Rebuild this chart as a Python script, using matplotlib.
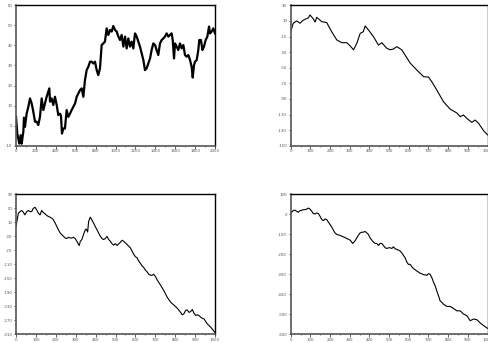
import numpy as np
import matplotlib.pyplot as plt
from matplotlib.ticker import MultipleLocator

# ---- data ----
# top-left: long random walk, 0..2000
tl_x = [0, 13, 33, 47, 57, 74, 80, 90, 107, 124, 141, 158, 174, 191, 208, 224, 241,
        258, 275, 291, 308, 325, 335, 342, 358, 375, 392, 409, 425, 442, 452, 462,
        476, 492, 500, 509, 526, 543, 559, 576, 593, 610, 626, 643, 660, 677, 693,
        710, 727, 744, 760, 777, 794, 811, 827, 844, 861, 878, 894, 911, 928, 945,
        962, 978, 995, 1012, 1029, 1045, 1062, 1079, 1096, 1112, 1129, 1146, 1162,
        1179, 1196, 1213, 1229, 1246, 1263, 1280, 1296, 1313, 1330, 1347, 1363,
        1380, 1397, 1414, 1430, 1447, 1464, 1481, 1497, 1514, 1531, 1548, 1564,
        1575, 1588, 1598, 1615, 1631, 1648, 1665, 1682, 1698, 1715, 1732, 1749,
        1765, 1776, 1789, 1799, 1816, 1832, 1842, 1859, 1873, 1889, 1906, 1923,
        1940, 1950, 1966, 1983, 2000]
tl_y = [4.4, -3.9, -8.9, -4.7, -9.0, -3.0, 4.0, -0.6, 6.0, 9.4, 13.6, 11.0, 7.0,
        2.0, 2.0, 0.3, 4.4, 13.6, 7.8, 11.0, 14.4, 17.0, 18.6, 12.0, 13.6, 10.3,
        14.4, 10.3, 5.3, 6.0, 5.0, -3.9, -1.4, -1.4, 2.8, 7.8, 4.4, 6.0, 7.8, 9.4,
        11.0, 14.4, 16.0, 17.7, 18.6, 14.4, 22.7, 27.7, 29.4, 31.9, 31.9, 31.0,
        31.9, 27.7, 25.2, 28.6, 40.2, 41.0, 41.9, 48.5, 45.2, 47.7, 46.9, 49.7,
        47.7, 46.9, 44.4, 42.7, 45.2, 39.4, 44.4, 38.5, 43.5, 39.4, 41.9, 38.5,
        46.0, 44.4, 41.9, 39.4, 36.0, 32.7, 27.7, 28.6, 31.0, 33.5, 37.7, 41.0,
        40.2, 37.7, 35.2, 41.0, 42.7, 43.5, 44.4, 46.0, 44.4, 45.2, 46.0, 42.7,
        33.5, 41.0, 39.4, 37.7, 41.0, 38.5, 40.2, 35.2, 34.4, 35.2, 32.7, 29.4,
        24.0, 30.2, 31.9, 32.7, 37.7, 42.7, 42.7, 37.7, 39.4, 42.7, 44.4, 49.4,
        46.0, 46.9, 48.5, 46.0]

# top-right: 0..1000
tr_x = [0, 13, 30, 47, 64, 90, 98, 115, 124, 132, 158, 183, 208, 234, 259, 285,
        302, 319, 336, 353, 369, 378, 395, 420, 446, 463, 488, 505, 522, 539, 564,
        581, 607, 624, 641, 675, 700, 717, 742, 776, 810, 844, 861, 878, 895, 920,
        937, 954, 980, 1000]
tr_y = [-3.8, 7.0, 10.0, 7.0, 11.0, 14.0, 17.6, 12.5, 8.6, 14.6, 9.0, 7.8, -3.8,
        -14.4, -17.9, -17.9, -22.0, -27.0, -18.7, -6.0, -3.8, 3.5, -1.6, -10.0,
        -21.0, -18.0, -25.0, -27.0, -26.0, -23.0, -27.0, -33.7, -44.0, -48.6,
        -53.0, -61.5, -62.0, -68.0, -78.5, -93.5, -103.0, -108.0, -112.7, -110.6,
        -115.0, -120.0, -117.0, -121.0, -130.7, -136.0]

# bottom-left: 0..1000
bl_x = [0, 3, 12, 20, 29, 37, 45, 54, 62, 71, 79, 87, 96, 104, 113, 121, 129,
        138, 146, 155, 163, 171, 180, 188, 197, 205, 213, 222, 230, 239, 247,
        255, 264, 272, 281, 289, 297, 306, 314, 318, 323, 331, 339, 348, 353,
        360, 365, 373, 381, 390, 398, 407, 415, 424, 432, 440, 449, 457, 466,
        474, 482, 491, 499, 508, 516, 524, 533, 541, 550, 558, 566, 575, 583,
        592, 600, 608, 617, 625, 634, 642, 650, 659, 667, 676, 684, 692, 701,
        709, 718, 726, 743, 760, 777, 793, 810, 827, 835, 844, 852, 860, 869,
        877, 886, 894, 903, 911, 919, 928, 936, 945, 961, 978, 1000]
bl_y = [-2.5, 7, 35, 40, 43, 38, 30.6, 40, 43, 40, 40, 49.4, 52, 44.7, 35, 30.6,
        43, 37, 33.4, 28.7, 26, 24, 21, 16.4, 7, -2.5, -12, -21, -26, -30.8,
        -35.5, -37, -33.6, -35.5, -35.5, -33.6, -37, -45, -54, -57, -45, -40,
        -26, -12, -10, -18.5, 11.7, 24, 16.4, 7, -2.5, -12, -21, -30.8, -37, -40,
        -37, -30.8, -40, -45, -51.5, -56, -51.5, -57, -52.5, -48, -42, -45,
        -49.6, -54, -59, -63.8, -73, -82.6, -89, -92, -101.5, -108, -115.7, -120,
        -127, -132.6, -139, -142, -142, -139, -146, -155, -163, -170, -186, -205,
        -219, -227, -236, -248, -255, -252, -243, -241, -248, -246, -240, -250,
        -257, -255, -257, -262, -265, -267, -281, -290, -306]

# bottom-right: 0..1000
br_x = [0, 5, 14, 22, 30, 39, 47, 56, 64, 73, 81, 90, 98, 107, 115, 124, 132,
        141, 149, 158, 166, 175, 183, 192, 200, 208, 217, 225, 234, 251, 268,
        285, 302, 315, 326, 336, 344, 353, 361, 369, 378, 386, 395, 403, 412,
        420, 429, 437, 446, 454, 463, 471, 480, 488, 497, 505, 514, 522, 531,
        539, 547, 556, 564, 573, 581, 590, 598, 607, 615, 624, 641, 658, 675,
        692, 700, 708, 717, 725, 734, 742, 751, 759, 768, 776, 793, 810, 827,
        844, 861, 878, 895, 912, 929, 946, 963, 980, 1000]
br_y = [0.5, 9, 19, 19, 14, 9, 17, 19, 22, 22, 25, 30, 25, 14, 2, 0.5, 5.5, 2,
        -11, -28, -33, -24, -28, -41, -52.6, -64, -81, -94, -102, -107, -114,
        -122, -130.5, -147, -135, -119, -105.6, -94, -90.7, -90.7, -87, -94,
        -102, -119, -130.5, -140, -147, -147, -157, -147, -147, -157, -168.7,
        -172, -168.7, -168.7, -172, -163.7, -173.6, -177, -180, -185, -193.5,
        -207, -218, -240, -251.6, -251.6, -263, -273, -285, -296, -303, -306,
        -298, -301, -318, -339.5, -359, -384, -409, -434, -442, -450.6, -462,
        -462, -472, -484, -484, -500, -508.6, -533.5, -525, -528.5, -545, -558,
        -571.6]

panels = [
    # (x, y, xmax, xstep, ymin, ymax, ystep, lw, rect)
    (tl_x, tl_y, 2000, 200, -10, 60, 10, 1.6, [0.0327, 0.575, 0.407, 0.4096]),
    (tr_x, tr_y, 1000, 100, -150, 30, 20, 0.8, [0.5945, 0.575, 0.4025, 0.4096]),
    (bl_x, bl_y, 1000, 100, -310, 90, 40, 0.8, [0.0327, 0.0262, 0.407, 0.408]),
    (br_x, br_y, 1000, 100, -600, 100, 100, 0.8, [0.5945, 0.0262, 0.4025, 0.408]),
]

plt.rcParams['axes.unicode_minus'] = False
fig = plt.figure(figsize=(4.89, 3.43), dpi=100)

for x, y, xmax, xstep, ymin, ymax, ystep, lw, rect in panels:
    ax = fig.add_axes(rect)
    ax.plot(x, y, color='black', lw=lw)
    ax.set_xlim(0, xmax)
    ax.set_ylim(ymin, ymax)
    ax.set_xticks(np.arange(0, xmax + 1, xstep))
    ax.set_yticks(np.arange(ymin, ymax + 1, ystep))
    ax.xaxis.set_minor_locator(MultipleLocator(xstep / 2))
    ax.yaxis.set_minor_locator(MultipleLocator(ystep / 2))
    ax.tick_params(which='major', direction='out', length=1.8, width=0.6,
                   labelsize=2.8, labelcolor='#555555', color='#444444', pad=0.8)
    ax.tick_params(which='minor', direction='out', length=1.0, width=0.5,
                   color='#444444')
    for side in ['left', 'bottom']:
        ax.spines[side].set_linewidth(1.2)
        ax.spines[side].set_color('#555555')
    for side in ['top', 'right']:
        ax.spines[side].set_linewidth(1.0)
        ax.spines[side].set_color('black')

fig.savefig('out.png', dpi=100)
